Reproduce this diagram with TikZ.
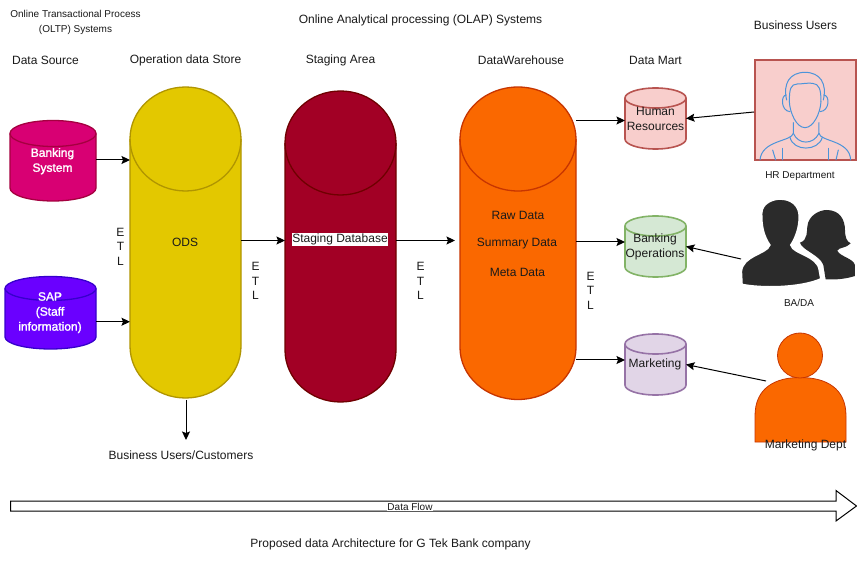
\documentclass[tikz,border=0pt]{standalone}
\usepackage{fontspec}
\setmainfont{Liberation Sans}
\newfontfamily\fauxbold[FakeBold=1.6]{Liberation Sans}
\usetikzlibrary{arrows.meta,calc}
\definecolor{txt}{HTML}{1A1A1A}
\definecolor{hrblue}{HTML}{4C94DA}
\definecolor{bankF}{HTML}{D80073}\definecolor{bankS}{HTML}{A50040}
\definecolor{sapF}{HTML}{6A00FF}\definecolor{sapS}{HTML}{3700CC}
\definecolor{odsF}{HTML}{E3C800}\definecolor{odsS}{HTML}{B09500}
\definecolor{stgF}{HTML}{A20025}\definecolor{stgS}{HTML}{6F0000}
\definecolor{dwF}{HTML}{FA6800}\definecolor{dwS}{HTML}{C73500}
\definecolor{hrF}{HTML}{F8CECC}\definecolor{hrS}{HTML}{B85450}
\definecolor{boF}{HTML}{D5E8D4}\definecolor{boS}{HTML}{82B366}
\definecolor{mkF}{HTML}{E1D5E7}\definecolor{mkS}{HTML}{9673A6}
\definecolor{sil}{HTML}{2B2B2B}
\tikzset{
  lbl/.style={inner sep=0pt,outer sep=0pt,align=center,text=txt,yshift=-.7pt,font=\fontsize{12}{15}\selectfont},
  small/.style={lbl,font=\fontsize{10}{15}\selectfont},
  tiny/.style={lbl,font=\fontsize{10}{12}\selectfont},
  etl/.style={lbl,font=\fontsize{12}{14.4}\selectfont},
  whitebold/.style={lbl,text=white,font=\fontsize{12}{15}\fauxbold},
  link/.style={draw=black,line width=1pt,-{Stealth[length=8.5pt,width=8pt,inset=1.5pt]}},
  anchorbox/.style={inner sep=0pt,outer sep=0pt},
  hrline/.style={draw=hrblue,line width=1pt,line cap=round},
}
% name, x1, y1, x2, y2, ry, colour prefix, line width
\newcommand{\cyl}[8]{%
  \pgfmathsetmacro{\cxx}{(#2+#4)/2}\pgfmathsetmacro{\cyy}{(#3+#5)/2}%
  \pgfmathsetmacro{\aa}{(#4-#2)/2}\pgfmathsetmacro{\ya}{#3+#6}\pgfmathsetmacro{\yb}{#5-#6}%
  \pgfmathsetmacro{\ww}{#4-#2}\pgfmathsetmacro{\hh}{#5-#3}%
  \draw[fill=#7F,draw=#7S,line width=#8] (#2,\ya) arc[start angle=180,end angle=0,x radius=\aa pt,y radius=#6pt]
    -- (#4,\yb) arc[start angle=0,end angle=-180,x radius=\aa pt,y radius=#6pt] -- cycle;
  \draw[draw=#7S,line width=#8] (#2,\ya) arc[start angle=180,end angle=360,x radius=\aa pt,y radius=#6pt];
  \node[anchorbox,minimum width=\ww pt,minimum height=\hh pt] (#1) at (\cxx,\cyy) {};
}
\begin{document}
\begin{tikzpicture}[x=1pt,y=-1pt]
\useasboundingbox[fill=white] (0,0) rectangle (857,561);

% cylinders
\cyl{bank}{10}{120.5}{96}{201}{13}{bank}{1.3pt}
\cyl{sap}{5}{276.5}{96}{349}{12}{sap}{1.3pt}
\cyl{ods}{130}{87}{241}{398}{52}{ods}{1.3pt}
\cyl{stg}{285}{91}{396}{402}{52}{stg}{1.3pt}
\cyl{dw}{460}{87}{576}{399.5}{52}{dw}{1.3pt}
\cyl{hr}{625}{88}{686}{149}{10}{hr}{1.6pt}
\cyl{bo}{625}{216}{686}{277}{10}{bo}{1.6pt}
\cyl{mk}{625}{334}{686}{395}{10}{mk}{1.6pt}

% HR user
\node[anchorbox,draw=hrS,fill=hrF,line width=1.1pt,minimum width=101pt,minimum height=100pt] (hruser) at (805.5,110) {};
\begin{scope}[xshift=620pt,yshift=-50pt,x=.3333pt,y=-.3333pt]
  \draw[hrline] (500,150) .. controls (488,100) and (510,67) .. (555,67) .. controls (600,67) and (622,100) .. (610,150);
  \draw[hrline] (508,155) .. controls (508,118) and (512,102) .. (532,102) .. controls (548,102) and (562,98) .. (578,100) .. controls (598,102) and (603,118) .. (603,155);
  \draw[hrline] (508,155) .. controls (510,190) and (530,233) .. (555,233) .. controls (580,233) and (601,190) .. (603,155);
  \draw[hrline] (499,135) .. controls (482,135) and (482,183) .. (510,185);
  \draw[hrline] (611,135) .. controls (630,135) and (630,183) .. (600,185);
  \draw[hrline] (520,218) -- (520,250) .. controls (515,275) and (425,270) .. (420,330);
  \draw[hrline] (597,218) -- (597,250) .. controls (600,275) and (690,270) .. (692,330);
  \draw[hrline] (510,262) .. controls (520,305) and (595,305) .. (607,262);
  \draw[hrline] (520,250) .. controls (535,285) and (580,285) .. (597,250);
  \draw[hrline] (458,300) -- (467,330);
  \draw[hrline] (487,295) -- (487,330);
  \draw[hrline] (625,295) -- (625,330);
  \draw[hrline] (655,300) -- (648,330);
\end{scope}

% BA/DA silhouettes
\node[anchorbox,minimum width=115pt,minimum height=92pt] (bauser) at (798.5,244) {};
\begin{scope}[xshift=620pt,yshift=-190pt,x=.3333pt,y=-.3333pt]
  \fill[sil] (617,268) -- (610,225) .. controls (600,195) and (545,180) .. (540,158)
     .. controls (565,150) and (560,120) .. (562,110) .. controls (565,75) and (600,60) .. (620,60)
     .. controls (660,60) and (675,90) .. (675,120) .. controls (675,140) and (680,155) .. (692,160)
     .. controls (680,175) and (655,172) .. (652,182) .. controls (660,200) and (700,205) .. (705,225)
     -- (705,258) .. controls (680,266) and (650,270) .. (617,268) -- cycle;
  \draw[white,line width=3pt,fill=sil] (364,285) -- (362,245) .. controls (365,195) and (440,190) .. (447,165)
     .. controls (430,140) and (422,110) .. (423,70) .. controls (423,40) and (455,25) .. (480,25)
     .. controls (515,25) and (540,45) .. (540,80) .. controls (540,115) and (528,145) .. (515,165)
     .. controls (520,190) and (595,195) .. (600,240) -- (605,268)
     .. controls (540,297) and (420,297) .. (364,285) -- cycle;
\end{scope}

% Marketing user
\draw[fill=dwF,draw=dwS,line width=.8pt] (755,442) -- (755,416) .. controls (755,388) and (775,377.5) .. (800,377.5)
   .. controls (826,377.5) and (846,388) .. (846,416) -- (846,442) -- cycle;
\node[anchorbox,circle,fill=dwF,draw=dwS,line width=.8pt,minimum size=45pt] (mkhead) at (800,355.5) {};
\node[anchorbox,minimum width=91pt,minimum height=87pt] (mkuser) at (800.5,399) {};

% connectors
\draw[link] ([yshift=.75pt]bank.east) -- ([yshift=.75pt]bank.east -| ods.west);
\draw[link] ([yshift=-9pt]sap.east) -- ([yshift=-9pt]sap.east -| ods.west);
\draw[link] ([yshift=2pt]ods.east) -- ([yshift=2pt]ods.east -| stg.west);
\coordinate (dwstop) at ([xshift=-5pt,yshift=6pt]stg.east -| dw.west);
\draw[link] ([yshift=6pt]stg.east) -- (dwstop);
\draw[link] ([yshift=-2pt]hr.west -| dw.east) -- ([yshift=-2pt]hr.west);
\draw[link] ([yshift=4.5pt]bo.west -| dw.east) -- ([yshift=4.5pt]bo.west);
\draw[link] ([yshift=4.5pt]mk.west -| dw.east) -- ([yshift=4.5pt]mk.west);
\coordinate (bizend) at (186,440);
\draw[link] ([yshift=-2pt,xshift=.5pt]ods.south) -- (bizend);
\draw[link] ([yshift=-2pt,xshift=-1pt]hruser.west) -- (hr.east);
\draw[link] ([yshift=-15pt]bauser.west) -- (bo.east);
\draw[link] ([xshift=11pt,yshift=18pt]mkuser.west) -- (mk.east);

% data flow arrow
\draw[draw=black,fill=white,line width=1pt] (10.5,501) -- (836,501) -- (836,490.5) -- (856.5,506) -- (836,521) -- (836,511) -- (10.5,511) -- cycle;
\node[tiny,fill=white,inner xsep=.5pt] (flow) at (410,506.5) {Data Flow};

% texts
\node[small] (t1) at (75.5,21.5) {Online Transactional Process\\(OLTP) Systems};
\node[lbl] (t2) at (420.5,20) {Online Analytical processing (OLAP) Systems};
\node[lbl] (t3) at (795.5,25) {Business Users};
\node[lbl] (h1) at (45.5,60) {Data Source};
\node[lbl] (h2) at (185.5,60) {Operation data Store};
\node[lbl] (h3) at (340.5,60) {Staging Area};
\node[lbl] (h4) at (521,60) {DataWarehouse};
\node[lbl] (h5) at (655.5,60) {Data Mart};
\node[whitebold] (l1) at (52.5,160.5) {Banking\\System};
\node[whitebold] (l2) at (50,312) {SAP\\(Staff\\information)};
\node[lbl] (l3) at (185,241.5) {ODS};
\node[lbl,fill=white,inner xsep=.5pt,inner ysep=1pt] (l4) at (340,239) {Staging Database};
\node[lbl] (l5) at (518,214.5) {Raw Data};
\node[lbl] (l6) at (517,242.5) {Summary Data};
\node[lbl] (l7) at (517.5,271.5) {Meta Data};
\node[lbl] (l8) at (655.5,118) {Human\\Resources};
\node[lbl] (l9) at (655,246.5) {Banking\\Operations};
\node[lbl] (l10) at (655,364) {Marketing};
\node[tiny] (l11) at (800,175.5) {HR Department};
\node[tiny] (l12) at (799,302) {BA/DA};
\node[lbl] (l13) at (805.5,445) {Marketing Dept};
\node[lbl] (l14) at (181,454.5) {Business Users/Customers};
\node[lbl] (l15) at (390.5,544) {Proposed data Architecture for G Tek Bank company};
\node[etl] (e1) at (120.5,246) {E\\T\\L};
\node[etl] (e2) at (255.5,280.5) {E\\T\\L};
\node[etl] (e3) at (420.5,280.5) {E\\T\\L};
\node[etl] (e4) at (590.5,290) {E\\T\\L};
\end{tikzpicture}
\end{document}
